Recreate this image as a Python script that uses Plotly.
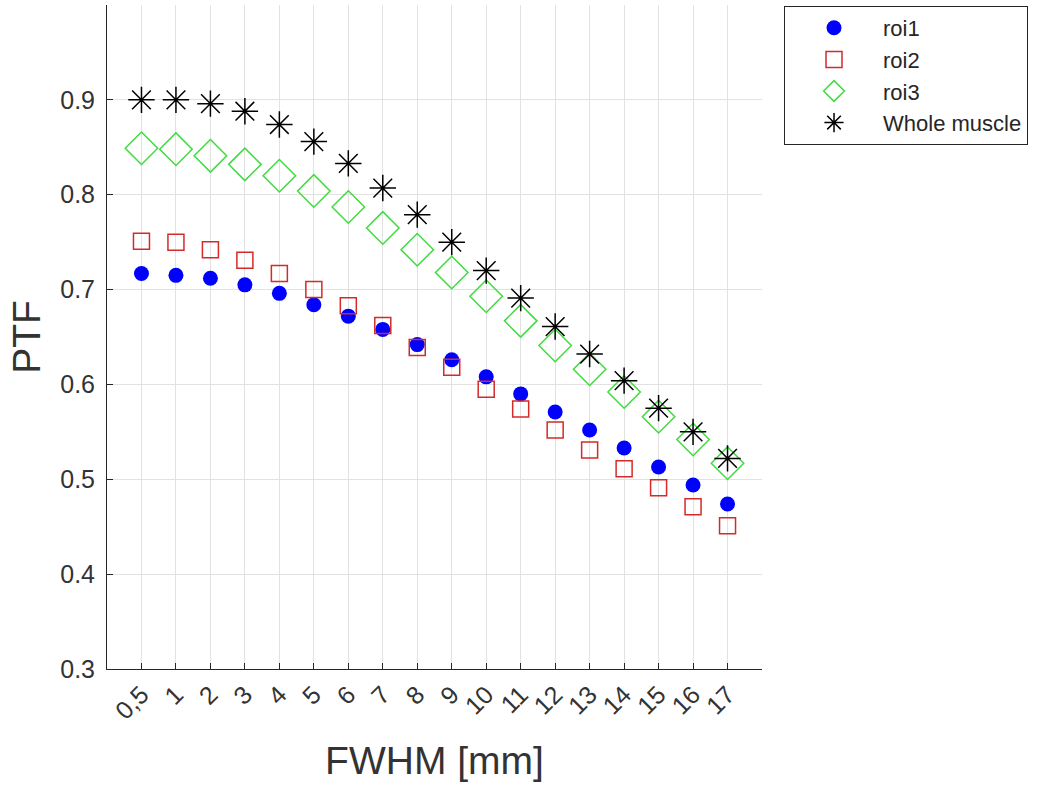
import plotly.graph_objects as go

fwhm_labels = ["0,5", "1", "2", "3", "4", "5", "6", "7", "8", "9",
               "10", "11", "12", "13", "14", "15", "16", "17"]

roi1 = [0.717, 0.715, 0.712, 0.705, 0.696, 0.684, 0.672, 0.658, 0.642,
        0.626, 0.608, 0.590, 0.571, 0.552, 0.533, 0.513, 0.494, 0.474]
roi2 = [0.751, 0.750, 0.742, 0.731, 0.717, 0.700, 0.683, 0.662, 0.639,
        0.618, 0.595, 0.574, 0.552, 0.531, 0.511, 0.491, 0.471, 0.451]
roi3 = [0.849, 0.848, 0.841, 0.832, 0.820, 0.804, 0.787, 0.765, 0.742,
        0.718, 0.693, 0.667, 0.641, 0.616, 0.592, 0.566, 0.542, 0.517]
whole = [0.900, 0.900, 0.896, 0.888, 0.874, 0.856, 0.833, 0.807, 0.779,
         0.750, 0.720, 0.691, 0.661, 0.632, 0.604, 0.575, 0.550, 0.522]

y_ticks = [0.3, 0.4, 0.5, 0.6, 0.7, 0.8, 0.9]

fig = go.Figure()
fig.add_trace(go.Scatter(x=fwhm_labels, y=roi1, mode="markers", name="roi1",
                         marker=dict(symbol="circle", size=15, color="#0000FF",
                                     line=dict(width=0))))
fig.add_trace(go.Scatter(x=fwhm_labels, y=roi2, mode="markers", name="roi2",
                         marker=dict(symbol="square-open", size=16, color="#D42A2A",
                                     line=dict(width=1.5, color="#D42A2A"))))
fig.add_trace(go.Scatter(x=fwhm_labels, y=roi3, mode="markers", name="roi3",
                         marker=dict(symbol="diamond-open", size=25, color="#3FDC3F",
                                     line=dict(width=1.5, color="#3FDC3F"))))
fig.add_trace(go.Scatter(x=fwhm_labels, y=whole, mode="markers", name="Whole muscle",
                         marker=dict(symbol="asterisk-open", size=22, color="#000000",
                                     line=dict(width=1.5, color="#000000"))))

axis_font = dict(family="Liberation Sans, Arial, sans-serif", size=25, color="#333333")

fig.update_layout(
    width=1038, height=785,
    margin=dict(l=107, r=276, t=5, b=116),
    paper_bgcolor="white", plot_bgcolor="white",
    font=dict(family="Liberation Sans, Arial, sans-serif", color="#262626"),
    showlegend=True,
    legend=dict(x=1.0336, y=0.9985, xanchor="left", yanchor="top",
                bordercolor="#262626", borderwidth=1, bgcolor="white",
                font=dict(size=22, color="#262626"), itemwidth=88),
    xaxis=dict(
        type="category", categoryorder="array", categoryarray=fwhm_labels,
        range=[-1, 18], showgrid=True, gridcolor="#E2E2E2", gridwidth=1,
        showline=True, linecolor="#262626", linewidth=1,
        ticks="inside", ticklen=6, tickcolor="#262626",
        tickangle=-45, tickfont=axis_font, zeroline=False,
        title=dict(text="FWHM [mm]", font=dict(size=39, color="#333333"), standoff=23),
    ),
    yaxis=dict(
        range=[0.3, 1.0], tickvals=y_ticks, tickformat=".1f",
        showgrid=True, gridcolor="#E2E2E2", gridwidth=1,
        showline=True, linecolor="#262626", linewidth=1,
        ticks="inside", ticklen=6, tickcolor="#262626",
        tickfont=axis_font, zeroline=False, ticklabelstandoff=6,
        title=dict(text="PTF", font=dict(size=39, color="#333333"), standoff=7),
    ),
)

fig.write_html("out.html")
